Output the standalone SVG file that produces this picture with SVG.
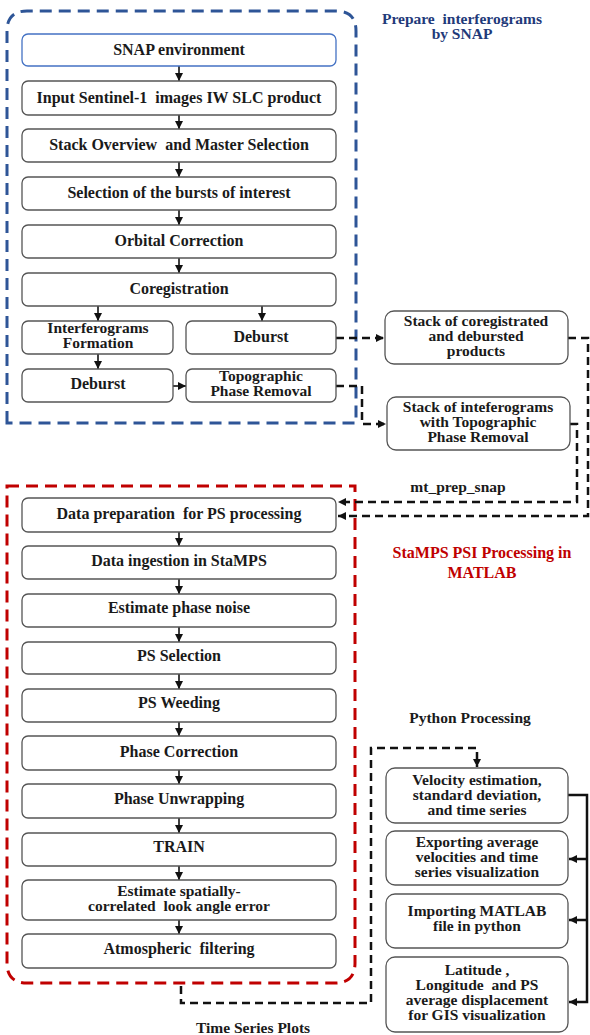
<svg xmlns="http://www.w3.org/2000/svg" width="590" height="1035" viewBox="0 0 590 1035">
<style>
.n{fill:#fff;stroke:#555;stroke-width:1.3}
.t{font-family:"Liberation Serif","Times New Roman",serif;font-weight:bold;font-size:16px;fill:#1a1a1a;text-anchor:middle;white-space:pre}
.m{font-size:15.5px}
.s{font-size:15.5px}
.a{stroke:#111;stroke-width:1.6;fill:none}
.d{stroke:#111;stroke-width:2.5;fill:none;stroke-dasharray:8 5}
.sol{stroke:#111;stroke-width:2.5;fill:none}
</style>
<defs>
<marker id="ah" markerUnits="userSpaceOnUse" markerWidth="9" markerHeight="8" refX="8" refY="4" orient="auto">
<path d="M0,0 L8,4 L0,8 z" fill="#111"/>
</marker>
</defs>
<rect width="590" height="1035" fill="#fff"/>

<g id="snap-group">
<path d="M7,423 L7,31 Q7,11 27,11 L336,11 Q356,11 356,31 L356,423 Z" fill="none" stroke="#2E5597" stroke-width="3" stroke-dasharray="12 7"/>
<text class="t m" x="462" y="24" style="fill:#1F3A7A">Prepare  interferograms</text>
<text class="t m" x="462" y="39" style="fill:#1F3A7A">by SNAP</text>
</g>
<g id="stamps-group">
<path d="M7,486 L355,486 L355,963 Q355,983 335,983 L27,983 Q7,983 7,963 Z" fill="none" stroke="#C00000" stroke-width="3" stroke-dasharray="12 7"/>
<text class="t" x="482" y="558" style="fill:#C00000">StaMPS PSI Processing in</text>
<text class="t" x="482" y="578" style="fill:#C00000">MATLAB</text>
</g>

<g id="connectors">
<line class="a" x1="179" y1="66" x2="179" y2="81" marker-end="url(#ah)"/>
<line class="a" x1="179" y1="115" x2="179" y2="129" marker-end="url(#ah)"/>
<line class="a" x1="179" y1="162" x2="179" y2="177" marker-end="url(#ah)"/>
<line class="a" x1="179" y1="210" x2="179" y2="225" marker-end="url(#ah)"/>
<line class="a" x1="179" y1="258" x2="179" y2="273" marker-end="url(#ah)"/>
<line class="a" x1="98" y1="306" x2="98" y2="321" marker-end="url(#ah)"/>
<line class="a" x1="262" y1="306" x2="262" y2="321" marker-end="url(#ah)"/>
<line class="a" x1="98" y1="354" x2="98" y2="369" marker-end="url(#ah)"/>
<line class="a" x1="173" y1="386" x2="186" y2="386" marker-end="url(#ah)"/>

<path class="d" d="M336,338 L384,338" marker-end="url(#ah)"/>
<path class="d" d="M336,386 L362,386 L362,424 L386,424" marker-end="url(#ah)"/>
<path class="d" d="M568,338 L588,338 L588,516 L338,516" marker-end="url(#ah)"/>
<path class="d" d="M570,424 L577,424 L577,502 L338,502" marker-end="url(#ah)"/>
<text class="t s" x="458" y="492">mt_prep_snap</text>

<line class="a" x1="179" y1="532" x2="179" y2="546" marker-end="url(#ah)"/>
<line class="a" x1="179" y1="579" x2="179" y2="594" marker-end="url(#ah)"/>
<line class="a" x1="179" y1="627" x2="179" y2="642" marker-end="url(#ah)"/>
<line class="a" x1="179" y1="674" x2="179" y2="689" marker-end="url(#ah)"/>
<line class="a" x1="179" y1="722" x2="179" y2="736" marker-end="url(#ah)"/>
<line class="a" x1="179" y1="770" x2="179" y2="784" marker-end="url(#ah)"/>
<line class="a" x1="179" y1="818" x2="179" y2="833" marker-end="url(#ah)"/>
<line class="a" x1="179" y1="866" x2="179" y2="880" marker-end="url(#ah)"/>
<line class="a" x1="179" y1="920" x2="179" y2="934" marker-end="url(#ah)"/>

<path class="d" d="M181,986 L181,1003 L371,1003 L371,748 L477,748 L477,767" marker-end="url(#ah)"/>
<text class="t s" x="253" y="1033">Time Series Plots</text>
<text class="t s" x="470" y="723">Python Processing</text>

<path class="sol" d="M568,795 L587,795 L587,1002 L569,1002" marker-end="url(#ah)"/>
<line class="sol" x1="587" y1="859" x2="569" y2="859" marker-end="url(#ah)"/>
<line class="sol" x1="587" y1="920" x2="569" y2="920" marker-end="url(#ah)"/>
</g>

<g id="snap-env"><rect class="n" x="22" y="34" width="314" height="32" rx="6" style="stroke:#4472C4"/><text class="t" x="179" y="55">SNAP environment</text></g>
<g id="input"><rect class="n" x="22" y="81" width="314" height="34" rx="6"/><text class="t" x="179" y="103">Input Sentinel-1  images IW SLC product</text></g>
<g id="stack-overview"><rect class="n" x="22" y="129" width="314" height="33" rx="6"/><text class="t" x="179" y="150">Stack Overview  and Master Selection</text></g>
<g id="bursts"><rect class="n" x="22" y="177" width="314" height="33" rx="6"/><text class="t" x="179" y="198">Selection of the bursts of interest</text></g>
<g id="orbital"><rect class="n" x="22" y="225" width="314" height="33" rx="6"/><text class="t" x="179" y="246">Orbital Correction</text></g>
<g id="coreg"><rect class="n" x="22" y="273" width="314" height="33" rx="6"/><text class="t" x="179" y="294">Coregistration</text></g>
<g id="ifg-formation"><rect class="n" x="22" y="321" width="151" height="33" rx="6"/><text class="t m" x="98" y="333">Interferograms</text><text class="t m" x="98" y="348">Formation</text></g>
<g id="deburst-right"><rect class="n" x="186" y="321" width="150" height="33" rx="6"/><text class="t" x="261" y="342">Deburst</text></g>
<g id="deburst-left"><rect class="n" x="22" y="369" width="151" height="33" rx="6"/><text class="t" x="98" y="389">Deburst</text></g>
<g id="topo"><rect class="n" x="186" y="369" width="150" height="33" rx="6"/><text class="t m" x="261" y="381">Topographic</text><text class="t m" x="261" y="396">Phase Removal</text></g>

<g id="stack-coreg"><rect class="n" x="385" y="311" width="183" height="53" rx="9"/><text class="t m" x="476" y="326">Stack of coregistrated</text><text class="t m" x="476" y="341">and debursted</text><text class="t m" x="476" y="356">products</text></g>
<g id="stack-ifg"><rect class="n" x="387" y="397" width="183" height="53" rx="9"/><text class="t m" x="478" y="412">Stack of inteferograms</text><text class="t m" x="478" y="427">with Topographic</text><text class="t m" x="478" y="442">Phase Removal</text></g>

<g id="data-prep"><rect class="n" x="22" y="498" width="314" height="34" rx="6"/><text class="t" x="179" y="519">Data preparation  for PS processing</text></g>
<g id="ingestion"><rect class="n" x="22" y="546" width="314" height="33" rx="6"/><text class="t" x="179" y="566">Data ingestion in StaMPS</text></g>
<g id="phase-noise"><rect class="n" x="22" y="594" width="314" height="33" rx="6"/><text class="t" x="179" y="613">Estimate phase noise</text></g>
<g id="ps-selection"><rect class="n" x="22" y="642" width="314" height="32" rx="6"/><text class="t" x="179" y="661">PS Selection</text></g>
<g id="ps-weeding"><rect class="n" x="22" y="689" width="314" height="33" rx="6"/><text class="t" x="179" y="708">PS Weeding</text></g>
<g id="phase-correction"><rect class="n" x="22" y="736" width="314" height="34" rx="6"/><text class="t" x="179" y="757">Phase Correction</text></g>
<g id="unwrapping"><rect class="n" x="22" y="784" width="314" height="34" rx="6"/><text class="t" x="179" y="804">Phase Unwrapping</text></g>
<g id="train"><rect class="n" x="22" y="833" width="314" height="33" rx="6"/><text class="t" x="179" y="852">TRAIN</text></g>
<g id="look-angle"><rect class="n" x="22" y="880" width="314" height="40" rx="6"/><text class="t m" x="179" y="896">Estimate spatially-</text><text class="t m" x="179" y="911">correlated  look angle error</text></g>
<g id="atmo"><rect class="n" x="22" y="934" width="314" height="34" rx="6"/><text class="t" x="179" y="954">Atmospheric  filtering</text></g>

<g id="velocity"><rect class="n" x="386" y="768" width="182" height="55" rx="9"/><text class="t m" x="477" y="785">Velocity estimation,</text><text class="t m" x="477" y="800">standard deviation,</text><text class="t m" x="477" y="815">and time series</text></g>
<g id="exporting"><rect class="n" x="386" y="831" width="182" height="54" rx="9"/><text class="t m" x="477" y="847">Exporting average</text><text class="t m" x="477" y="862">velocities and time</text><text class="t m" x="477" y="877">series visualization</text></g>
<g id="importing"><rect class="n" x="386" y="894" width="182" height="54" rx="9"/><text class="t m" x="477" y="916">Importing MATLAB</text><text class="t m" x="477" y="931">file in python</text></g>
<g id="latlon"><rect class="n" x="386" y="957" width="182" height="75" rx="9"/><text class="t m" x="477" y="975">Latitude ,</text><text class="t m" x="477" y="990">Longitude  and PS</text><text class="t m" x="477" y="1005">average displacement</text><text class="t m" x="477" y="1020">for GIS visualization</text></g>
</svg>
